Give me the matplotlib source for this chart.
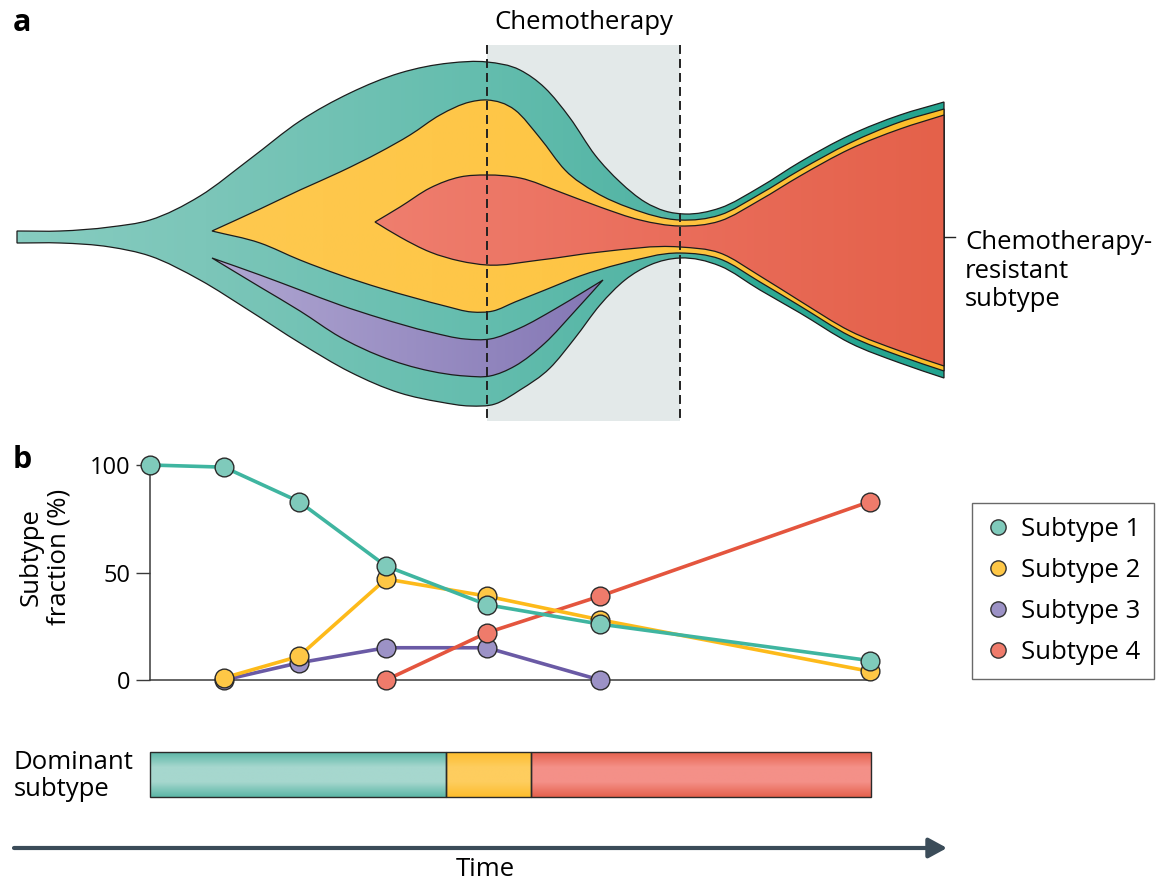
import numpy as np
import matplotlib.pyplot as plt
from matplotlib.path import Path
from matplotlib.patches import PathPatch, Rectangle
from matplotlib.colors import LinearSegmentedColormap
from matplotlib.lines import Line2D

plt.rcParams["font.family"] = ["Open Sans", "DejaVu Sans"]

W, H = 1162, 884

# panel a: clone boundaries (x = time, y = vertical position, panel pixels)
teal_top = [(17, 231), (60, 231), (110, 227), (150, 220), (200, 196), (250, 159), (300, 121),
            (350, 93), (400, 73), (450, 63), (487, 62), (520, 70), (545, 88), (570, 118),
            (595, 155), (620, 182), (645, 202), (665, 211), (685, 214), (720, 208), (760, 187),
            (800, 162), (850, 135), (900, 115), (944, 102)]
teal_bottom = [(17, 243), (60, 243), (110, 247), (150, 256), (200, 280), (250, 311), (300, 343),
               (350, 372), (400, 393), (440, 402), (470, 406), (495, 404), (520, 390), (550, 368),
               (575, 338), (600, 305), (625, 280), (650, 265), (680, 258), (720, 266), (760, 290),
               (800, 313), (850, 343), (900, 363), (944, 378)]
yellow_top = [(212, 231), (260, 209), (300, 190), (340, 172), (380, 152), (410, 135), (440, 115),
              (470, 102), (487, 100), (515, 110), (540, 138), (565, 170), (595, 192), (630, 208),
              (680, 220), (720, 215), (760, 194), (800, 170), (850, 143), (900, 122), (944, 109)]
yellow_bottom = [(212, 231), (260, 243), (300, 260), (340, 275), (380, 288), (415, 298), (445, 306),
                 (472, 312), (493, 311), (515, 302), (545, 290), (580, 276), (620, 264), (680, 253),
                 (720, 259), (760, 282), (800, 306), (850, 336), (900, 356), (944, 371)]
red_top = [(375, 222), (400, 207), (430, 188), (460, 177), (487, 175), (520, 178), (560, 192),
           (600, 207), (640, 220), (680, 226), (720, 221), (760, 200), (800, 176), (850, 149),
           (900, 129), (944, 115)]
red_bottom = [(375, 222), (400, 237), (430, 252), (460, 261), (487, 265), (540, 260), (600, 252),
              (680, 247), (720, 253), (760, 276), (800, 301), (850, 331), (900, 351), (944, 366)]
purple_top = [(212, 258), (260, 275), (300, 290), (340, 305), (380, 318), (430, 332), (465, 339),
              (490, 339), (520, 328), (555, 309), (585, 291), (603, 280)]
purple_bottom = [(212, 258), (260, 287), (300, 311), (340, 337), (380, 356), (430, 371), (465, 376),
                 (490, 376), (515, 366), (545, 343), (575, 311), (603, 280)]
chemo_start, chemo_end = 487, 680

# panel b: subtype fractions (%)
sample_time = [150, 224, 299, 386, 487, 600, 870]
subtype1 = [100, 99, 83, 53, 35, 26, 9]
subtype2 = [np.nan, 1, 11, 47, 39, 28, 4]
subtype3 = [np.nan, 0, 8, 15, 15, 0, np.nan]
subtype4 = [np.nan, np.nan, np.nan, 0, 22, 39, 83]
series = [subtype1, subtype2, subtype3, subtype4]
names = ["Subtype 1", "Subtype 2", "Subtype 3", "Subtype 4"]

dominant_edges = [150, 446, 531, 871]
dominant_subtype = [0, 1, 3]

line_colors = ["#3fb5a0", "#fdba1a", "#6a5aa5", "#e4553e"]
face_colors = ["#7fcabb", "#fec746", "#9c92c6", "#ef7b6b"]
bar_colors = [("#5db7a7", "#a6d7ce"), ("#fdbd2e", "#fecd5e"), None, ("#e5624e", "#f49088")]


def curve(pts):
    # cubic Hermite segments in x, handed to matplotlib as Bezier control points
    p = np.asarray(pts, float)
    x, y = p[:, 0], p[:, 1]
    m = np.gradient(y, x)
    segs = []
    for i in range(len(p) - 1):
        h = x[i + 1] - x[i]
        segs.append([(x[i], y[i]),
                     (x[i] + h / 3, y[i] + m[i] * h / 3),
                     (x[i + 1] - h / 3, y[i + 1] - m[i + 1] * h / 3),
                     (x[i + 1], y[i + 1])])
    return segs


def fish_shape(top, bottom):
    fwd = curve(top)
    back = [s[::-1] for s in curve(bottom)[::-1]]
    verts = [fwd[0][0]]
    for s in fwd:
        verts += s[1:]
    verts.append(back[0][0])
    for s in back:
        verts += s[1:]
    verts.append(fwd[0][0])
    codes = ([Path.MOVETO] + [Path.CURVE4] * (3 * len(fwd)) + [Path.LINETO]
             + [Path.CURVE4] * (3 * len(back)) + [Path.CLOSEPOLY])
    return Path(verts, codes)


def draw_clone(ax, top, bottom, stops, z):
    patch = PathPatch(fish_shape(top, bottom), facecolor="none", edgecolor="#1c1c1c",
                      lw=0.9, zorder=z + 0.5)
    ax.add_patch(patch)
    cmap = LinearSegmentedColormap.from_list("g", stops)
    im = ax.imshow(np.linspace(0, 1, 256)[None, :], cmap=cmap, aspect="auto",
                   extent=(top[0][0], top[-1][0], 430, 40), zorder=z, interpolation="bilinear")
    im.set_clip_path(patch)


fig = plt.figure(figsize=(W / 100, H / 100), dpi=100)
ax = fig.add_axes([0, 0, 1, 1])

ax.add_patch(Rectangle((chemo_start, 45), chemo_end - chemo_start, 376, color="#e3e9e9", lw=0, zorder=0))
draw_clone(ax, teal_top, teal_bottom,
           [(0, "#86ccc0"), (0.2, "#7cc6b9"), (0.5, "#64bdae"), (0.7, "#52b4a4"),
            (0.8, "#2eaa95"), (1, "#22a48f")], 1)
draw_clone(ax, yellow_top, yellow_bottom, [(0, "#fec94f"), (0.6, "#fec543"), (1, "#fcbd28")], 2)
draw_clone(ax, red_top, red_bottom, [(0, "#ef7e6e"), (0.5, "#ea6e5c"), (1, "#e4614a")], 3)
draw_clone(ax, purple_top, purple_bottom, [(0, "#b0a7d2"), (1, "#8477b5")], 3)
ax.vlines([chemo_start, chemo_end], 45, 421, colors="#222222", linestyles=(0, (4.6, 2.6)),
          lw=1.4, zorder=6)
ax.plot([944, 955], [237, 237], color="#222222", lw=1)

ax.text((chemo_start + chemo_end) / 2, 29, "Chemotherapy", ha="center", va="baseline", fontsize=18.5)
ax.text(965, 271, "Chemotherapy-\nresistant\nsubtype", ha="left", va="center",
        fontsize=18.5, linespacing=1.2)
ax.text(13, 31, "a", fontsize=22, fontweight="bold", va="baseline")
ax.text(13, 468, "b", fontsize=22, fontweight="bold", va="baseline")

# dominant subtype bar
for k, sub in enumerate(dominant_subtype):
    x0, x1 = dominant_edges[k], dominant_edges[k + 1]
    edge, mid = bar_colors[sub]
    cmap = LinearSegmentedColormap.from_list("b", [edge, mid, mid, edge])
    ax.imshow(np.linspace(0, 1, 64)[:, None], cmap=cmap, aspect="auto",
              extent=(x0, x1, 797, 752), zorder=2, interpolation="bilinear")
    ax.add_patch(Rectangle((x0, 752), x1 - x0, 45, fill=False, edgecolor="#2a2a2a", lw=1, zorder=3))
ax.text(14, 776, "Dominant\nsubtype", ha="left", va="center", fontsize=18.5, linespacing=1.12)

ax.annotate("", xy=(947, 848), xytext=(14, 848),
            arrowprops=dict(arrowstyle="-|>,head_length=0.55,head_width=0.3", color="#3b4c59",
                            lw=3, shrinkA=0, shrinkB=0, mutation_scale=20))
ax.text(485, 870, "Time", ha="center", va="center", fontsize=18.5)

ax.set_xlim(0, W)
ax.set_ylim(H, 0)
ax.axis("off")

# panel b line chart
axb = fig.add_axes([150 / W, 1 - 680 / H, 720 / W, 215 / H])
axb.patch.set_alpha(0)
for i in [2, 3, 1, 0]:
    axb.plot(sample_time, series[i], color=line_colors[i], lw=2.6, marker="o", ms=13.5,
             mfc=face_colors[i], mec="#2b2b2b", mew=1.0, clip_on=False, zorder=3)
axb.set_xlim(150, 870)
axb.set_ylim(0, 100)
axb.set_xticks([])
axb.set_yticks([0, 50, 100])
axb.tick_params(axis="y", length=10, width=1, color="#3a3a3a", labelsize=17, pad=4)
for s in ["top", "right"]:
    axb.spines[s].set_visible(False)
for s in ["left", "bottom"]:
    axb.spines[s].set_color("#3a3a3a")
    axb.spines[s].set_linewidth(1.1)
fig.text(45 / W, 1 - 557 / H, "Subtype\nfraction (%)", rotation=90, ha="center", va="center",
         fontsize=18.5, linespacing=1.18, multialignment="center")

handles = [Line2D([], [], ls="none", marker="o", ms=11, mfc=face_colors[i], mec="#333333", mew=1)
           for i in range(4)]
leg = fig.legend(handles, names, loc="upper left", bbox_to_anchor=(972 / W, 1 - 503 / H),
                 frameon=True, fancybox=False, edgecolor="#444444", fontsize=18.5,
                 borderpad=0.55, labelspacing=0.62, handlelength=0.9, handletextpad=0.45,
                 borderaxespad=0)
leg.get_frame().set_linewidth(1.0)

fig.savefig("out.png", dpi=100)
